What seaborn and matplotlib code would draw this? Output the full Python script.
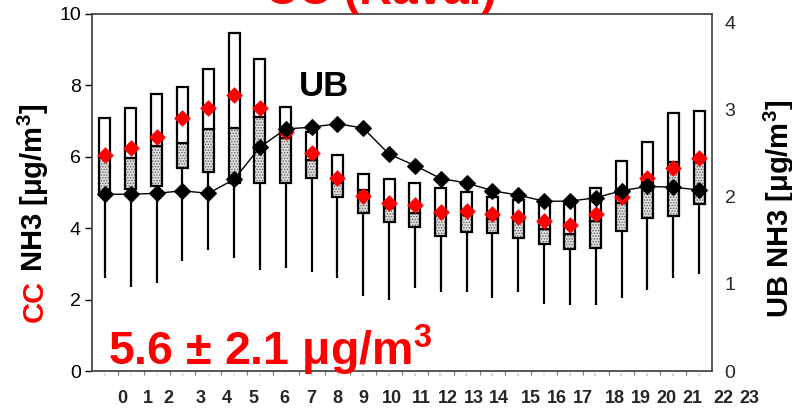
import matplotlib
matplotlib.use("Agg")
import matplotlib.pyplot as plt
import matplotlib.transforms as mtransforms
import numpy as np
import seaborn as sns

# Hourly NH3 statistics
hours = list(range(24))
cc_top = [7.09, 7.37, 7.75, 7.96, 8.47, 9.46, 8.73, 7.39, 6.70, 6.05, 5.53, 5.39,
          5.27, 5.14, 5.01, 4.88, 4.79, 4.65, 4.68, 5.14, 5.88, 6.42, 7.22, 7.29]
cc_median = [6.00, 5.96, 6.30, 6.40, 6.77, 6.82, 7.11, 6.52, 5.90, 5.26, 5.07, 4.56,
             4.42, 4.40, 4.37, 4.25, 4.23, 3.97, 3.84, 4.20, 4.70, 5.12, 5.86, 5.85]
cc_q1 = [5.00, 5.09, 5.19, 5.70, 5.57, 5.28, 5.27, 5.27, 5.42, 4.86, 4.42, 4.18,
         4.04, 3.79, 3.90, 3.87, 3.73, 3.57, 3.42, 3.44, 3.92, 4.28, 4.34, 4.67]
cc_low = [2.61, 2.36, 2.46, 3.07, 3.39, 3.17, 2.83, 2.88, 2.76, 2.61, 2.11, 1.99,
          2.32, 2.22, 2.20, 2.05, 2.20, 1.89, 1.84, 1.84, 2.05, 2.27, 2.61, 2.72]
cc_mean = [6.05, 6.24, 6.56, 7.08, 7.38, 7.73, 7.38, 6.70, 6.11, 5.42, 4.90, 4.70,
           4.65, 4.44, 4.47, 4.40, 4.30, 4.21, 4.09, 4.40, 4.88, 5.40, 5.70, 5.98]
ub_mean = [2.03, 2.03, 2.04, 2.07, 2.04, 2.20, 2.57, 2.78, 2.80, 2.84, 2.79, 2.49,
           2.36, 2.21, 2.16, 2.07, 2.02, 1.95, 1.95, 1.99, 2.07, 2.12, 2.11, 2.08]

# Hour labels along the bottom and where they sit (in hour units)
hour_labels = [str(h) for h in range(24)]
hour_label_pos = [0.66, 1.67, 2.47, 3.71, 4.73, 5.74, 6.96, 7.97, 8.99, 10.02, 11.10, 12.26,
                  13.26, 14.28, 15.26, 16.49, 17.51, 18.49, 19.74, 20.74, 21.72, 22.74, 23.94, 24.93]

title_text = "CC (Raval)"
summary_text = "5.6 ± 2.1 μg/m$^{\\mathbf{3}}$"

sns.set_style("white")
plt.rcParams["font.family"] = ["Liberation Sans", "DejaVu Sans"]
plt.rcParams["mathtext.fontset"] = "custom"
plt.rcParams["mathtext.rm"] = "Liberation Sans"
plt.rcParams["mathtext.bf"] = "Liberation Sans:bold"
plt.rcParams["mathtext.it"] = "Liberation Sans:italic"
plt.rcParams["hatch.linewidth"] = 0.7

W, H = 792, 408
fig = plt.figure(figsize=(W / 100, H / 100), dpi=100)
ax = fig.add_axes([92 / W, 37 / H, 620 / W, 357 / H])

x = np.array(hours, dtype=float)
top = np.array(cc_top)
med = np.array(cc_median)
q1 = np.array(cc_q1)
low = np.array(cc_low)
bw = 0.43

# lower whiskers
ax.vlines(x, low, q1, color="black", lw=1.6, zorder=1)
# stippled lower half of each box
ax.bar(x, med - q1, bottom=q1, width=bw, facecolor="#e0e0e0", edgecolor="#606060",
       hatch="......", linewidth=0, zorder=2)
ax.bar(x, med - q1, bottom=q1, width=bw, fill=False, edgecolor="black", linewidth=1.6, zorder=3)
# white upper half
ax.bar(x, top - med, bottom=med, width=bw, facecolor="white", edgecolor="black",
       linewidth=1.6, zorder=3)

# mean CC concentration
sns.scatterplot(x=hours, y=cc_mean, ax=ax, marker="D", s=62, color="red",
                edgecolor="red", linewidth=0.6, zorder=5, legend=False)

ax.set_xlim(-0.5, 23.5)
ax.set_ylim(0, 10)
ax.set_yticks([0, 2, 4, 6, 8, 10])
ax.tick_params(axis="y", direction="out", length=5, width=1, labelsize=14, pad=3,
               left=True, colors="black")
ax.set_xticks(hours)
ax.set_xticklabels(hour_labels, fontsize=2.2, color="#9a9a9a")
ax.tick_params(axis="x", which="major", length=0, pad=1.5)
ax.set_xticks(np.arange(0.5, 23.5, 1.0), minor=True)
ax.tick_params(axis="x", which="minor", length=3, width=0.8, color="#777777", bottom=True)
for s in ax.spines.values():
    s.set_color("#4a4a4a")
    s.set_linewidth(1.3)
ax.set_xlabel("")
ax.set_ylabel("")

# bold hour numbers beneath the axis
blend = mtransforms.blended_transform_factory(ax.transData, ax.transAxes)
for pos, lab in zip(hour_label_pos, hour_labels):
    ax.text(pos, -0.053, lab, transform=blend, ha="center", va="top",
            fontsize=13, fontweight="bold", clip_on=False)

ax.text(0.11, 0.17, summary_text, color="red", fontsize=33.5, fontweight="bold",
        ha="left", va="baseline", zorder=4)
ax.text(8.47, 7.98, "UB", color="black", fontsize=25, fontweight="bold",
        ha="center", va="center")

# urban background on the secondary axis
ax2 = ax.twinx()
sns.lineplot(x=hours, y=ub_mean, ax=ax2, color="black", marker="D", markersize=8.3,
             markeredgecolor="black", lw=1.0, zorder=6)
ax2.set_ylim(0, 4.1)
ax2.set_yticks([0, 1, 2, 3, 4])
ax2.tick_params(axis="y", length=0, pad=9, labelsize=14, right=True)
for s in ax2.spines.values():
    s.set_visible(False)
ax2.set_xlabel("")
ax2.set_ylabel("")
ax2.set_xlim(-0.5, 23.5)

fig.text(381 / W, 1 - 4.5 / H, title_text, color="red", fontsize=33, fontweight="bold",
         ha="center", va="baseline")

# axis titles built from coloured pieces
renderer = fig.canvas.get_renderer()


def stacked_label(pieces, x_px, y_px, size):
    y = y_px
    for txt, color in pieces:
        t = fig.text(x_px / W, 1 - y / H, txt, rotation=90, rotation_mode="anchor",
                     ha="left", va="baseline", color=color, fontsize=size,
                     fontweight="bold")
        bb = t.get_window_extent(renderer)
        y -= bb.height


stacked_label([("CC", "red"), (" NH3 [μg/m$^{\\mathbf{3}}$]", "black")], 43, 322, 21)
stacked_label([("UB NH3 [μg/m$^{\\mathbf{3}}$]", "black")], 789, 318, 21)

fig.savefig("out.png", dpi=100)
